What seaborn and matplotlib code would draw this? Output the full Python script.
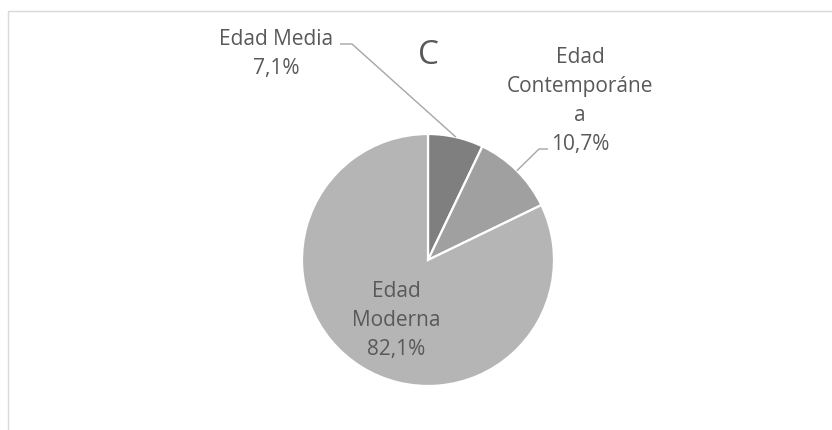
import numpy as np
import matplotlib
matplotlib.use("Agg")
import matplotlib.pyplot as plt
from matplotlib.patches import Rectangle
import seaborn as sns

# Share of items by historical period
periods = ["Edad Media", "Edad Contemporánea", "Edad Moderna"]
label_lines = [["Edad Media", None], ["Edad", "Contemporáne", "a", None], ["Edad", "Moderna", None]]
shares = [7.1, 10.7, 82.1]
slice_colors = ["#7f7f7f", "#a0a0a0", "#b5b5b5"]
title = "C"

sns.set_theme(style="white")
plt.rcParams["font.family"] = ["Open Sans", "DejaVu Sans"]
TEXT = "#595959"

W, H = 832, 430
fig = plt.figure(figsize=(W / 100, H / 100), dpi=100)
ax = fig.add_axes([0, 0, 1, 1])

cx, cy, r = 428, H - 260, 126
wedges, _ = ax.pie(
    shares,
    colors=slice_colors,
    startangle=90,
    counterclock=False,
    center=(cx, cy),
    radius=r,
    wedgeprops=dict(edgecolor="white", linewidth=1.6),
)
ax.set_xlim(0, W)
ax.set_ylim(0, H)
ax.set_aspect("equal")
ax.axis("off")

# chart area border (continues past the right and bottom edges)
fig.patches.append(Rectangle((8 / W, -0.1), 1.2, (H - 11) / H + 0.1,
                             transform=fig.transFigure, fill=False,
                             edgecolor="#d9d9d9", linewidth=1.0))

ax.text(cx, H - 56, title, ha="center", va="center", fontsize=24,
        color=TEXT)


def pct(v):
    return f"{v:.1f}".replace(".", ",") + "%"


def rim_point(w):
    a = np.deg2rad((w.theta1 + w.theta2) / 2)
    return cx + r * np.cos(a), cy + r * np.sin(a)


def draw_lines(lines, x, y_top, step=29, size=15):
    for i, s in enumerate(lines):
        ax.text(x, H - (y_top + i * step), s, ha="center", va="baseline",
                fontsize=size, color=TEXT)


# label positions (baseline of first line) and leader elbows
label_pos = [(276, 45), (580, 63), (396, 297)]
leaders = [[(352, 44), (340, 44)], [(539, 149), (548, 149)], None]

for w, lines, v, (lx, ly), lead in zip(wedges, label_lines, shares, label_pos, leaders):
    text_lines = [s if s is not None else pct(v) for s in lines]
    draw_lines(text_lines, lx, ly)
    if lead is not None:
        px, py = rim_point(w)
        xs = [px] + [p[0] for p in lead]
        ys = [py] + [H - p[1] for p in lead]
        ax.plot(xs, ys, color="#a6a6a6", linewidth=1.0, solid_capstyle="butt")

fig.savefig("out.png", dpi=100)
